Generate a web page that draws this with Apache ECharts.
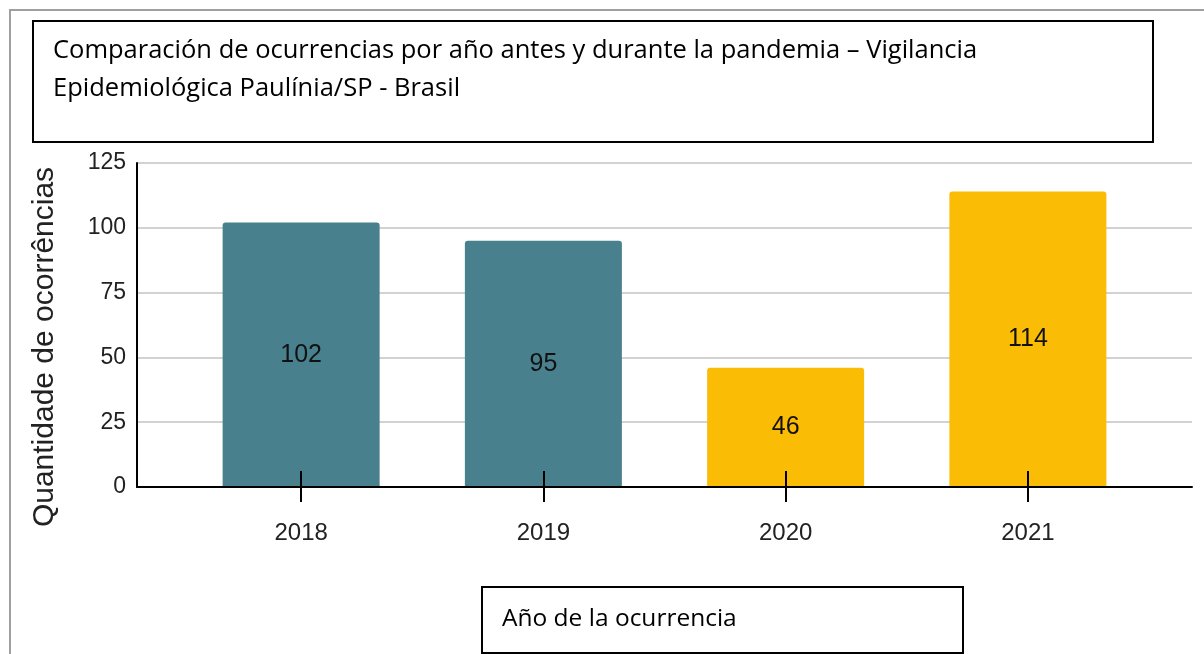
<!DOCTYPE html>
<html>
<head>
<meta charset="utf-8">
<script src="https://cdn.jsdelivr.net/npm/echarts@6/dist/echarts.min.js"></script>
<style>
  html, body { margin: 0; padding: 0; background: #fff; }
  #chart { width: 1204px; height: 654px; }
</style>
</head>
<body>
<div id="chart"></div>
<script>
var years = ['2018', '2019', '2020', '2021'];
var counts = [102, 95, 46, 114];
var barColors = ['#49808d', '#49808d', '#fbbc05', '#fbbc05'];
var titleText = 'Comparación de ocurrencias por año antes y durante la pandemia – Vigilancia\nEpidemiológica Paulínia/SP - Brasil';
var yName = 'Quantidade de ocorrências';
var xName = 'Año de la ocurrencia';

var chart = echarts.init(document.getElementById('chart'));

var sans = '"Liberation Sans", Arial, sans-serif';
var body = '"Open Sans", "Noto Sans", sans-serif';

chart.setOption({
  animation: false,
  title: {
    text: titleText,
    left: 53,
    top: 32,
    padding: 0,
    textStyle: {
      fontFamily: body,
      fontSize: 25.5,
      fontWeight: 'normal',
      color: '#000',
      lineHeight: 38
    }
  },
  grid: [
    // frame: y axis, split lines and the long x axis line
    { left: 137, right: 12, top: 163, bottom: 167 },
    // bars: category band placement
    { left: 180, right: 55, top: 163, bottom: 167 }
  ],
  xAxis: [
    {
      gridIndex: 0,
      type: 'value',
      min: 0,
      max: 1,
      z: 5,
      axisLine: { show: true, lineStyle: { color: '#000', width: 2 } },
      axisTick: { show: false },
      axisLabel: { show: false },
      splitLine: { show: false }
    },
    {
      gridIndex: 1,
      type: 'category',
      position: 'bottom',
      data: years,
      z: 5,
      axisLine: { show: false },
      axisTick: { show: true, alignWithLabel: true, length: 15, lineStyle: { color: '#000', width: 2 } },
      axisLabel: { fontFamily: sans, fontSize: 24, color: '#222', margin: 34 }
    },
    {
      gridIndex: 1,
      type: 'category',
      position: 'bottom',
      data: years,
      z: 5,
      axisLine: { show: false },
      axisTick: { show: true, inside: true, alignWithLabel: true, length: 16, lineStyle: { color: '#000', width: 2 } },
      axisLabel: { show: false }
    }
  ],
  yAxis: [
    {
      gridIndex: 0,
      type: 'value',
      min: 0,
      max: 125,
      interval: 25,
      axisLine: { show: true, lineStyle: { color: '#000', width: 2 } },
      axisTick: { show: false },
      axisLabel: { fontFamily: sans, fontSize: 23, color: '#222', margin: 11 },
      splitLine: { lineStyle: { color: '#d2d2d2', width: 2 } }
    },
    {
      gridIndex: 1,
      type: 'value',
      min: 0,
      max: 125,
      show: false,
      splitLine: { show: false }
    }
  ],
  series: [{
    type: 'bar',
    xAxisIndex: 1,
    yAxisIndex: 1,
    barWidth: 157,
    data: counts.map((v, i) => ({
      value: v,
      itemStyle: { color: barColors[i], borderRadius: [3, 3, 0, 0] }
    })),
    label: {
      show: true,
      position: 'inside',
      fontFamily: sans,
      fontSize: 25,
      color: '#111'
    }
  }],
  graphic: [
    // outer frame (left and top edges)
    { type: 'line', shape: { x1: 10, y1: 10, x2: 10, y2: 654 }, style: { stroke: '#a0a0a0', lineWidth: 2 } },
    { type: 'line', shape: { x1: 9, y1: 10, x2: 1204, y2: 10 }, style: { stroke: '#a0a0a0', lineWidth: 2 } },
    // title box
    { type: 'rect', shape: { x: 33, y: 21, width: 1120, height: 121 }, style: { fill: 'none', stroke: '#000', lineWidth: 2 } },
    // y axis name
    {
      type: 'text',
      x: 45,
      y: 347,
      rotation: Math.PI / 2,
      style: {
        text: yName,
        font: '30px "Liberation Sans", Arial, sans-serif',
        fill: '#222',
        align: 'center',
        verticalAlign: 'middle'
      }
    },
    // x axis name box
    { type: 'rect', shape: { x: 482, y: 587, width: 481, height: 66 }, style: { fill: '#fff', stroke: '#000', lineWidth: 2 } },
    {
      type: 'text',
      x: 502,
      y: 619,
      style: {
        text: xName,
        font: '24.5px "Open Sans", "Noto Sans", sans-serif',
        fill: '#000',
        align: 'left',
        verticalAlign: 'middle'
      }
    }
  ]
});
</script>
</body>
</html>
